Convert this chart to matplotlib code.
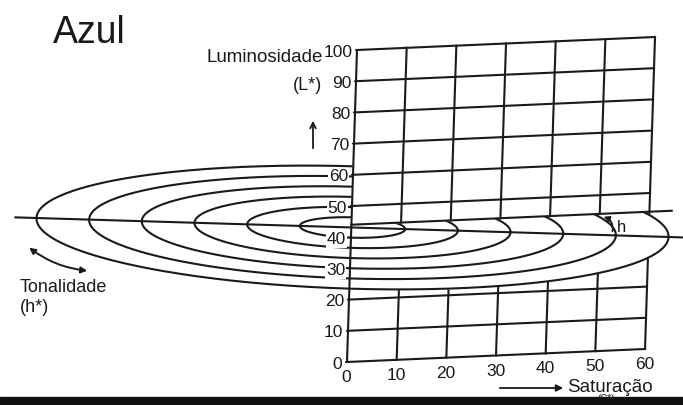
#!/usr/bin/env python3
# plot.py - CIE L*C*h diagram ("Azul")

import numpy as np
import matplotlib
matplotlib.use("Agg")
import matplotlib.pyplot as plt
from matplotlib.transforms import Affine2D
from matplotlib.patches import FancyArrowPatch

# ===== data =====
L_TICKS = [0, 10, 20, 30, 40, 50, 60, 70, 80, 90, 100]
C_TICKS = [0, 10, 20, 30, 40, 50, 60]
CHROMA_RINGS = [10, 20, 30, 40, 50, 60]
HUE_PLANE_L = 44          # where the hue plane cuts the L*-C* plane
PLANE_EXT_C = 64.5        # cut line runs a bit past C*=60
HUE_AXIS = [-64, 63]      # extent of the hue axis line (C* units)

INK = "#1a1a1a"
LW = 1.5
plt.rcParams["font.family"] = ["Liberation Sans", "DejaVu Sans"]

fig = plt.figure(figsize=(6.83, 4.05), dpi=100)
ax = fig.add_axes([0, 0, 1, 1])
ax.set_xlim(0, 683)
ax.set_ylim(405, 0)
ax.axis("off")

# ---- projections: L*-C* plane (slightly skewed) and the hue plane (flattened ellipses) ----
plane_tf = Affine2D.from_values(4.967, -0.2167, 0.1, -3.12, 347, 362) + ax.transData
hue_tf = Affine2D().scale(5.27, 1.02).rotate_deg(1.72).translate(352.5, 227.5) + ax.transData

c_max, l_max = C_TICKS[-1], L_TICKS[-1]

# lower part of the L*-C* grid (partly hidden by the hue disc)
for L in [l for l in L_TICKS if l < HUE_PLANE_L]:
    ax.plot([0, c_max], [L, L], color=INK, lw=LW, transform=plane_tf, zorder=1)
for C in C_TICKS[1:]:
    ax.plot([C, C], [0, HUE_PLANE_L], color=INK, lw=LW, transform=plane_tf, zorder=1)

# hue disc + rings
t = np.linspace(0, 2 * np.pi, 400)
outer = CHROMA_RINGS[-1]
ax.fill(outer * np.cos(t), outer * np.sin(t), color="white", transform=hue_tf, zorder=2)
for r in CHROMA_RINGS:
    ax.plot(r * np.cos(t), r * np.sin(t), color=INK, lw=LW, transform=hue_tf, zorder=3)
ax.plot(HUE_AXIS, [0, 0], color=INK, lw=LW, transform=hue_tf, zorder=3)

# upper part of the L*-C* plane (opaque, hides the back of the rings)
ax.fill([0, c_max, c_max, 0], [HUE_PLANE_L, HUE_PLANE_L, l_max, l_max],
        color="white", transform=plane_tf, zorder=4)
for L in [l for l in L_TICKS if l > HUE_PLANE_L]:
    ax.plot([0, c_max], [L, L], color=INK, lw=LW, transform=plane_tf, zorder=5)
for C in C_TICKS[1:]:
    ax.plot([C, C], [HUE_PLANE_L, l_max], color=INK, lw=LW, transform=plane_tf, zorder=5)
ax.plot([0, PLANE_EXT_C], [HUE_PLANE_L, HUE_PLANE_L], color=INK, lw=LW,
        transform=plane_tf, zorder=5)

# L* axis with ticks
ax.plot([0, 0], [0, l_max], color=INK, lw=LW, transform=plane_tf, zorder=6)
for L in L_TICKS:
    ax.annotate("", xy=(0, L), xycoords=plane_tf, xytext=(-3, 0),
                textcoords="offset points",
                arrowprops=dict(arrowstyle="-", color=INK, lw=1.2), zorder=6)
    ax.annotate(str(L), xy=(0, L), xycoords=plane_tf, xytext=(-3.5, -1.5),
                textcoords="offset points", ha="right", va="center",
                fontsize=12.5, color=INK, zorder=7,
                bbox=dict(boxstyle="square,pad=0.05", fc="white", ec="none"))

# C* tick labels along the bottom edge
for C in C_TICKS:
    ax.text(C, -5, str(C), transform=plane_tf, ha="center", va="center",
            fontsize=12.5, color=INK, zorder=7)

# ---- annotations ----
ax.text(53, 33, "Azul", fontsize=27, color=INK, va="center", ha="left")
ax.text(323, 58, "Luminosidade", fontsize=13.5, color=INK, va="center", ha="right")
ax.text(322, 85, "(L*)", fontsize=13, color=INK, va="center", ha="right")
ax.annotate("", xy=(313, 118), xytext=(313, 151),
            arrowprops=dict(arrowstyle="->", color=INK, lw=1.3))

ax.text(20, 287, "Tonalidade", fontsize=13, color=INK, va="center", ha="left")
ax.text(20, 307, "(h*)", fontsize=13, color=INK, va="center", ha="left")
ax.add_patch(FancyArrowPatch((27, 246), (90, 271), arrowstyle="<|-|>", mutation_scale=9,
                             connectionstyle="arc3,rad=0.15", color=INK, lw=1.4))

ax.add_patch(FancyArrowPatch((612, 234), (601, 216), arrowstyle="-|>", mutation_scale=8,
                             connectionstyle="arc3,rad=0.5", color=INK, lw=1.3, zorder=8))
ax.text(622, 227, "h", fontsize=12, color=INK, va="center", ha="center", zorder=8)

ax.annotate("", xy=(566, 388), xytext=(497, 388),
            arrowprops=dict(arrowstyle="-|>", color=INK, lw=1.3, mutation_scale=10))
ax.text(567, 387, "Saturação", fontsize=13.5, color=INK, va="center", ha="left")
# mostly hidden under the dark strip, as in the source
ax.text(606, 399.5, "(C*)", fontsize=7, color=INK, va="center", ha="center")

# dark strip along the bottom edge
ax.fill_between([0, 683], 397, 405, color="#111111", zorder=10)

fig.savefig("out.png", dpi=100)
